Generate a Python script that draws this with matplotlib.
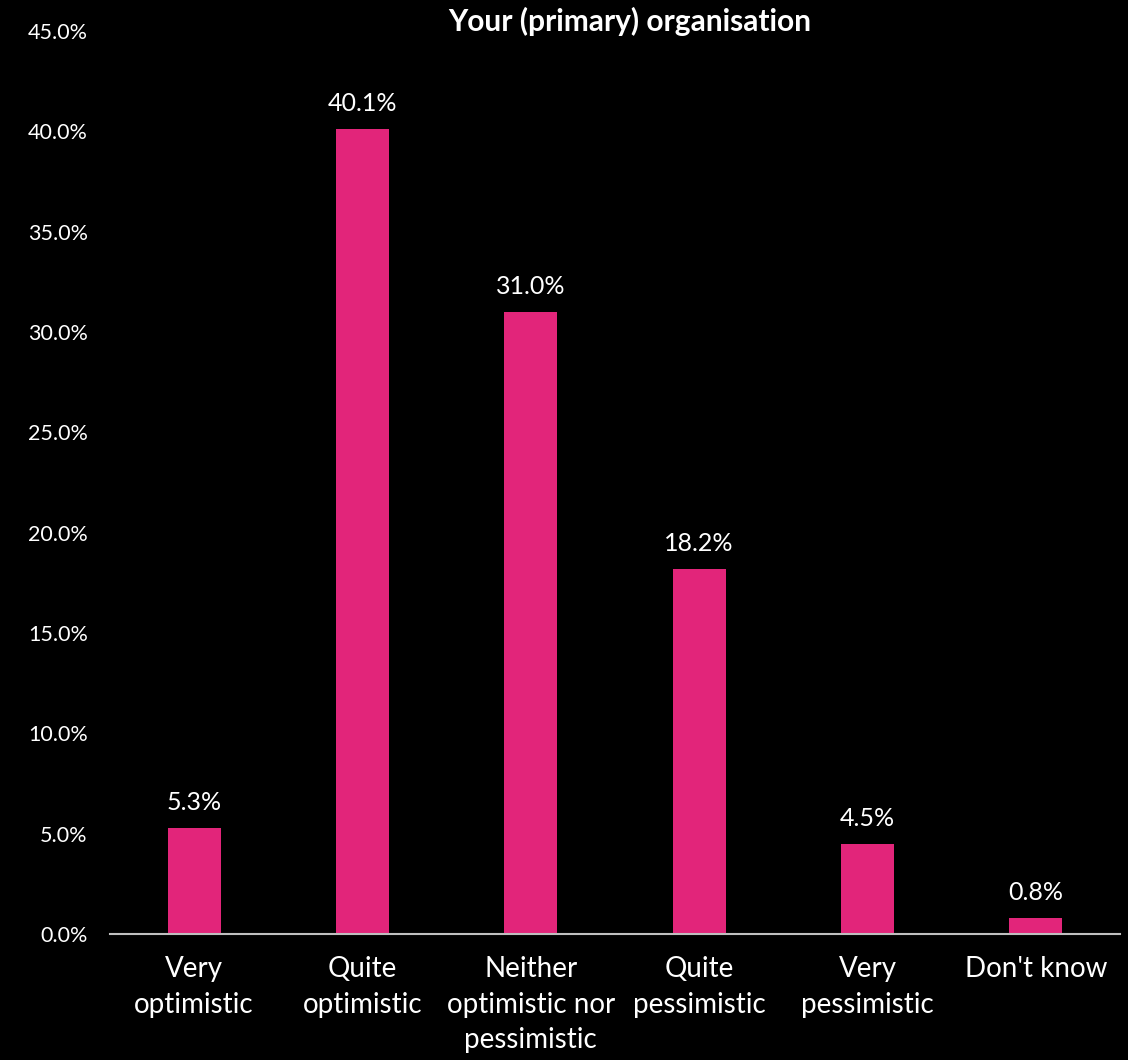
import matplotlib
matplotlib.use("Agg")
import matplotlib.pyplot as plt
from matplotlib.ticker import FuncFormatter, MultipleLocator

categories = ["Very\noptimistic", "Quite\noptimistic", "Neither\noptimistic nor\npessimistic",
              "Quite\npessimistic", "Very\npessimistic", "Don't know"]
values = [5.3, 40.1, 31.0, 18.2, 4.5, 0.8]
title = "Your (primary) organisation"

plt.rcParams['font.family'] = ['Lato', 'DejaVu Sans']

fig = plt.figure(figsize=(11.28, 10.60), dpi=100, facecolor='black')
ax = fig.add_axes([110/1128, 1 - 934/1060, 1010/1128, 903/1060])
ax.set_facecolor('black')

x = list(range(len(categories)))
bars = ax.bar(x, values, width=0.315, color='#E2257A', zorder=2)
for xi, v in zip(x, values):
    ax.annotate(f"{v:.1f}%", (xi, v), xytext=(0, 10), textcoords='offset points',
                ha='center', va='bottom', color='white', fontsize=18)

ax.set_xlim(-0.5, len(categories) - 0.5)
ax.set_ylim(0, 45)
ax.yaxis.set_major_locator(MultipleLocator(5))
ax.yaxis.set_major_formatter(FuncFormatter(lambda v, p: f"{v:.1f}%"))
ax.set_xticks(x)
ax.set_xticklabels(categories, fontsize=20, color='white', linespacing=1.45, va='top')
ax.tick_params(axis='x', length=0, pad=16)
ax.tick_params(axis='y', length=0, labelsize=15.5, labelcolor='white', pad=16)
for lab in ax.get_yticklabels():
    lab.set_horizontalalignment('right')

for s in ['top', 'right', 'left']:
    ax.spines[s].set_visible(False)
ax.spines['bottom'].set_color('#BFBFBF')
ax.spines['bottom'].set_linewidth(1.5)

fig.text(630/1128, 1 - 21/1060, title, ha='center', va='center', color='white',
         fontsize=21.5, fontweight='bold')

fig.savefig('out.png', dpi=100, facecolor='black')
